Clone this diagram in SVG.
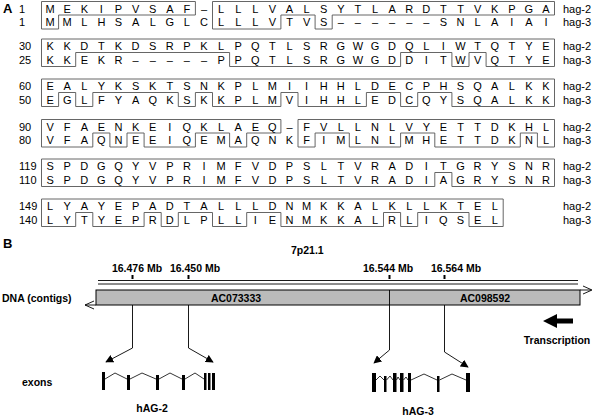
<svg xmlns="http://www.w3.org/2000/svg" width="600" height="417" viewBox="0 0 600 417">
<style>
text{font-family:"Liberation Sans",Arial,sans-serif;fill:#000}
.aa{font-size:11px;text-anchor:middle}
.num{font-size:11px}
.lab{font-size:11px}
.box{fill:none;stroke:#555;stroke-width:0.9}
.b{font-weight:bold;font-size:10.5px}
.c{text-anchor:middle}
.ln{fill:none;stroke:#000;stroke-width:0.9}
.ex{fill:#000}
.intr{fill:none;stroke:#000;stroke-width:0.8}
</style>
<defs>
<marker id="ah" viewBox="0 0 10 10" refX="9" refY="5" markerWidth="8" markerHeight="8" markerUnits="userSpaceOnUse" orient="auto">
<path d="M0,0 L10,5 L0,10 z" fill="#000"/>
</marker>
</defs>

<text x="3" y="13" style="font-weight:bold;font-size:13px">A</text>

<g id="row1" transform="translate(0,1.5)">
<path class="box" d="M41.5,0 H195.4 V13.5 H58.6 V27.5 H41.5 Z"/>
<path class="box" d="M212.5,0 H554.5 V13.5 H332.2 V27.5 H315.1 V13.5 H280.9 V27.5 H212.5 Z"/>
<text class="num" x="19" y="11">1</text><text class="num" x="19" y="24.5">1</text>
<text class="aa" y="11" x="50.1 67.2 84.3 101.4 118.5 135.6 152.7 169.8 186.9 204 221.1 238.2 255.3 272.4 289.5 306.6 323.7 340.8 357.9 375 392.1 409.2 426.3 443.4 460.5 477.6 494.7 511.8 528.9 546">MEKIPVSAF–LLLVALSYTLARDTTVKPGA</text>
<text class="aa" y="24.5" x="50.1 67.2 84.3 101.4 118.5 135.6 152.7 169.8 186.9 204 221.1 238.2 255.3 272.4 289.5 306.6 323.7 340.8 357.9 375 392.1 409.2 426.3 443.4 460.5 477.6 494.7 511.8 528.9 546">MMLHSALGLCLLLVTVS––––––SNLAIAI</text>
<text class="lab" x="563" y="11">hag-2</text><text class="lab" x="563" y="24.5">hag-3</text>
</g>

<g id="row2" transform="translate(0,39)">
<path class="box" d="M41.5,0 H554.5 V27.5 H486.1 V13.5 H469 V27.5 H451.9 V13.5 H400.6 V27.5 H229.6 V13.5 H75.7 V27.5 H41.5 Z"/>
<text class="num" x="19" y="11">30</text><text class="num" x="19" y="24.5">25</text>
<text class="aa" y="11" x="50.1 67.2 84.3 101.4 118.5 135.6 152.7 169.8 186.9 204 221.1 238.2 255.3 272.4 289.5 306.6 323.7 340.8 357.9 375 392.1 409.2 426.3 443.4 460.5 477.6 494.7 511.8 528.9 546">KKDTKDSRPKLPQTLSRGWGDQLIWTQTYE</text>
<text class="aa" y="24.5" x="50.1 67.2 84.3 101.4 118.5 135.6 152.7 169.8 186.9 204 221.1 238.2 255.3 272.4 289.5 306.6 323.7 340.8 357.9 375 392.1 409.2 426.3 443.4 460.5 477.6 494.7 511.8 528.9 546">KKEKR–––––PPQTLSRGWGDDITWVQTYE</text>
<text class="lab" x="563" y="11">hag-2</text><text class="lab" x="563" y="24.5">hag-3</text>
</g>

<g id="row3" transform="translate(0,79)">
<path class="box" d="M41.5,0 H554.5 V27.5 H451.9 V13.5 H417.7 V27.5 H400.6 V13.5 H366.4 V27.5 H298 V13.5 H280.9 V27.5 H212.5 V13.5 H195.4 V27.5 H178.3 V13.5 H92.8 V27.5 H75.7 V13.5 H58.6 V27.5 H41.5 Z"/>
<text class="num" x="19" y="11">60</text><text class="num" x="19" y="24.5">50</text>
<text class="aa" y="11" x="50.1 67.2 84.3 101.4 118.5 135.6 152.7 169.8 186.9 204 221.1 238.2 255.3 272.4 289.5 306.6 323.7 340.8 357.9 375 392.1 409.2 426.3 443.4 460.5 477.6 494.7 511.8 528.9 546">EALYKSKTSNKPLMIIHHLDECPHSQALKK</text>
<text class="aa" y="24.5" x="50.1 67.2 84.3 101.4 118.5 135.6 152.7 169.8 186.9 204 221.1 238.2 255.3 272.4 289.5 306.6 323.7 340.8 357.9 375 392.1 409.2 426.3 443.4 460.5 477.6 494.7 511.8 528.9 546">EGLFYAQKSKKPLMVIHHLEDCQYSQALKK</text>
<text class="lab" x="563" y="11">hag-2</text><text class="lab" x="563" y="24.5">hag-3</text>
</g>

<g id="row4" transform="translate(0,119.5)">
<path class="box" d="M41.5,0 H280.9 V13.5 H246.7 V27.5 H229.6 V13.5 H195.4 V27.5 H144.1 V13.5 H127 V27.5 H109.9 V13.5 H92.8 V27.5 H41.5 Z"/>
<path class="box" d="M298,0 H554.5 V27.5 H537.4 V13.5 H520.3 V27.5 H434.8 V13.5 H400.6 V27.5 H349.3 V13.5 H315.1 V27.5 H298 Z"/>
<text class="num" x="19" y="11">90</text><text class="num" x="19" y="24.5">80</text>
<text class="aa" y="11" x="50.1 67.2 84.3 101.4 118.5 135.6 152.7 169.8 186.9 204 221.1 238.2 255.3 272.4 289.5 306.6 323.7 340.8 357.9 375 392.1 409.2 426.3 443.4 460.5 477.6 494.7 511.8 528.9 546">VFAENKEIQKLAEQ–FVLLNLVYETTDKHL</text>
<text class="aa" y="24.5" x="50.1 67.2 84.3 101.4 118.5 135.6 152.7 169.8 186.9 204 221.1 238.2 255.3 272.4 289.5 306.6 323.7 340.8 357.9 375 392.1 409.2 426.3 443.4 460.5 477.6 494.7 511.8 528.9 546">VFAQNEEIQEMAQNKFIMLNLMHETTDKNL</text>
<text class="lab" x="563" y="11">hag-2</text><text class="lab" x="563" y="24.5">hag-3</text>
</g>

<g id="row5" transform="translate(0,159)">
<path class="box" d="M41.5,0 H554.5 V27.5 H451.9 V13.5 H434.8 V27.5 H41.5 Z"/>
<text class="num" x="19" y="11">119</text><text class="num" x="19" y="24.5">110</text>
<text class="aa" y="11" x="50.1 67.2 84.3 101.4 118.5 135.6 152.7 169.8 186.9 204 221.1 238.2 255.3 272.4 289.5 306.6 323.7 340.8 357.9 375 392.1 409.2 426.3 443.4 460.5 477.6 494.7 511.8 528.9 546">SPDGQYVPRIMFVDPSLTVRADITGRYSNR</text>
<text class="aa" y="24.5" x="50.1 67.2 84.3 101.4 118.5 135.6 152.7 169.8 186.9 204 221.1 238.2 255.3 272.4 289.5 306.6 323.7 340.8 357.9 375 392.1 409.2 426.3 443.4 460.5 477.6 494.7 511.8 528.9 546">SPDGQYVPRIMFVDPSLTVRADIAGRYSNR</text>
<text class="lab" x="563" y="11">hag-2</text><text class="lab" x="563" y="24.5">hag-3</text>
</g>

<g id="row6" transform="translate(0,199)">
<path class="box" d="M41.5,0 H503.2 V27.5 H469 V13.5 H417.7 V27.5 H400.6 V13.5 H383.5 V27.5 H280.9 V13.5 H246.7 V27.5 H212.5 V13.5 H178.3 V27.5 H161.2 V13.5 H144.1 V27.5 H92.8 V13.5 H75.7 V27.5 H41.5 Z"/>
<text class="num" x="19" y="11">149</text><text class="num" x="19" y="24.5">140</text>
<text class="aa" y="11" x="50.1 67.2 84.3 101.4 118.5 135.6 152.7 169.8 186.9 204 221.1 238.2 255.3 272.4 289.5 306.6 323.7 340.8 357.9 375 392.1 409.2 426.3 443.4 460.5 477.6 494.7">LYAYEPADTALLLDNMKKALKLLKTEL</text>
<text class="aa" y="24.5" x="50.1 67.2 84.3 101.4 118.5 135.6 152.7 169.8 186.9 204 221.1 238.2 255.3 272.4 289.5 306.6 323.7 340.8 357.9 375 392.1 409.2 426.3 443.4 460.5 477.6 494.7">LYTYEPRDLPLLIENMKKALRLIQSEL</text>
<text class="lab" x="563" y="11">hag-2</text><text class="lab" x="563" y="24.5">hag-3</text>
</g>

<text x="3" y="248" style="font-weight:bold;font-size:13px">B</text>
<text class="b" x="291" y="254">7p21.1</text>

<g id="scale">
<text class="b c" x="137" y="272">16.476 Mb</text>
<text class="b c" x="195" y="272">16.450 Mb</text>
<text class="b c" x="388" y="272">16.544 Mb</text>
<text class="b c" x="456" y="272">16.564 Mb</text>
<rect x="131.5" y="275" width="2" height="4" fill="#000"/>
<rect x="187.5" y="275" width="2" height="4" fill="#000"/>
<rect x="388.5" y="275" width="2" height="4" fill="#000"/>
<rect x="443.5" y="275" width="2" height="4" fill="#000"/>
<line class="ln" x1="98" y1="280.5" x2="578" y2="280.5" stroke-width="1.2"/>
<line class="ln" x1="98" y1="284" x2="578" y2="284" stroke-width="1.2"/>
</g>

<text class="b" x="2" y="302">DNA (contigs)</text>
<g id="contigs">
<rect x="96" y="290" width="484" height="15" fill="#bbb" stroke="#000" stroke-width="1"/>
<line class="ln" x1="389.5" y1="290" x2="389.5" y2="305"/>
<polyline class="ln" points="580,290 591,290"/>
<polyline class="ln" points="583,286 592,290 583,294"/>
<polyline class="ln" points="96,305 85,305"/>
<polyline class="ln" points="94,301 85,305 94,309"/>
<text class="b c" x="236" y="301.5">AC073333</text>
<text class="b c" x="485" y="301.5">AC098592</text>
</g>

<g id="connectors">
<path class="ln" d="M132.5,305 V348 L106,362" marker-end="url(#ah)"/>
<path class="ln" d="M188.5,305 V348 L213,362" marker-end="url(#ah)"/>
<path class="ln" d="M389.5,305 V350 L374,363" marker-end="url(#ah)"/>
<path class="ln" d="M444.5,305 V352 L468,367" marker-end="url(#ah)"/>
</g>

<g id="transcription">
<polygon points="543,321 557,314 557,318.5 573,318.5 573,323.5 557,323.5 557,328" fill="#000"/>
<text class="b c" x="557" y="344">Transcription</text>
</g>

<text class="b" x="22" y="386">exons</text>

<g id="hAG-2">
<rect class="ex" x="102" y="372" width="3" height="18"/>
<rect class="ex" x="127" y="375" width="3" height="15"/>
<rect class="ex" x="156" y="375" width="3" height="15"/>
<rect class="ex" x="182" y="375" width="3" height="15"/>
<rect class="ex" x="204" y="373" width="2.5" height="17"/>
<rect class="ex" x="208" y="373" width="2.5" height="17"/>
<rect class="ex" x="212" y="373" width="3" height="17"/>
<polyline class="intr" points="105,379 115,373 127,379"/>
<polyline class="intr" points="130,379 142,373 156,379"/>
<polyline class="intr" points="159,379 170,373 182,379"/>
<polyline class="intr" points="185,379 195,373 204,379"/>
<text class="b c" x="152" y="412">hAG-2</text>
</g>

<g id="hAG-3">
<rect class="ex" x="372" y="373" width="4" height="19"/>
<rect class="ex" x="384" y="376" width="2.5" height="16"/>
<rect class="ex" x="393" y="373" width="3.5" height="19"/>
<rect class="ex" x="400" y="373" width="3.5" height="19"/>
<rect class="ex" x="408" y="373" width="3" height="19"/>
<rect class="ex" x="437" y="376" width="2.5" height="16"/>
<rect class="ex" x="466" y="373" width="4" height="19"/>
<polyline class="intr" points="376,380 380,376 384,380"/>
<polyline class="intr" points="386.5,380 390,376 393,380"/>
<polyline class="intr" points="396.5,380 398,377 400,380"/>
<polyline class="intr" points="403.5,380 406,377 408,380"/>
<polyline class="intr" points="411,380 424,374 437,380"/>
<polyline class="intr" points="439.5,380 452,374 466,380"/>
<text class="b c" x="418" y="415">hAG-3</text>
</g>
</svg>
